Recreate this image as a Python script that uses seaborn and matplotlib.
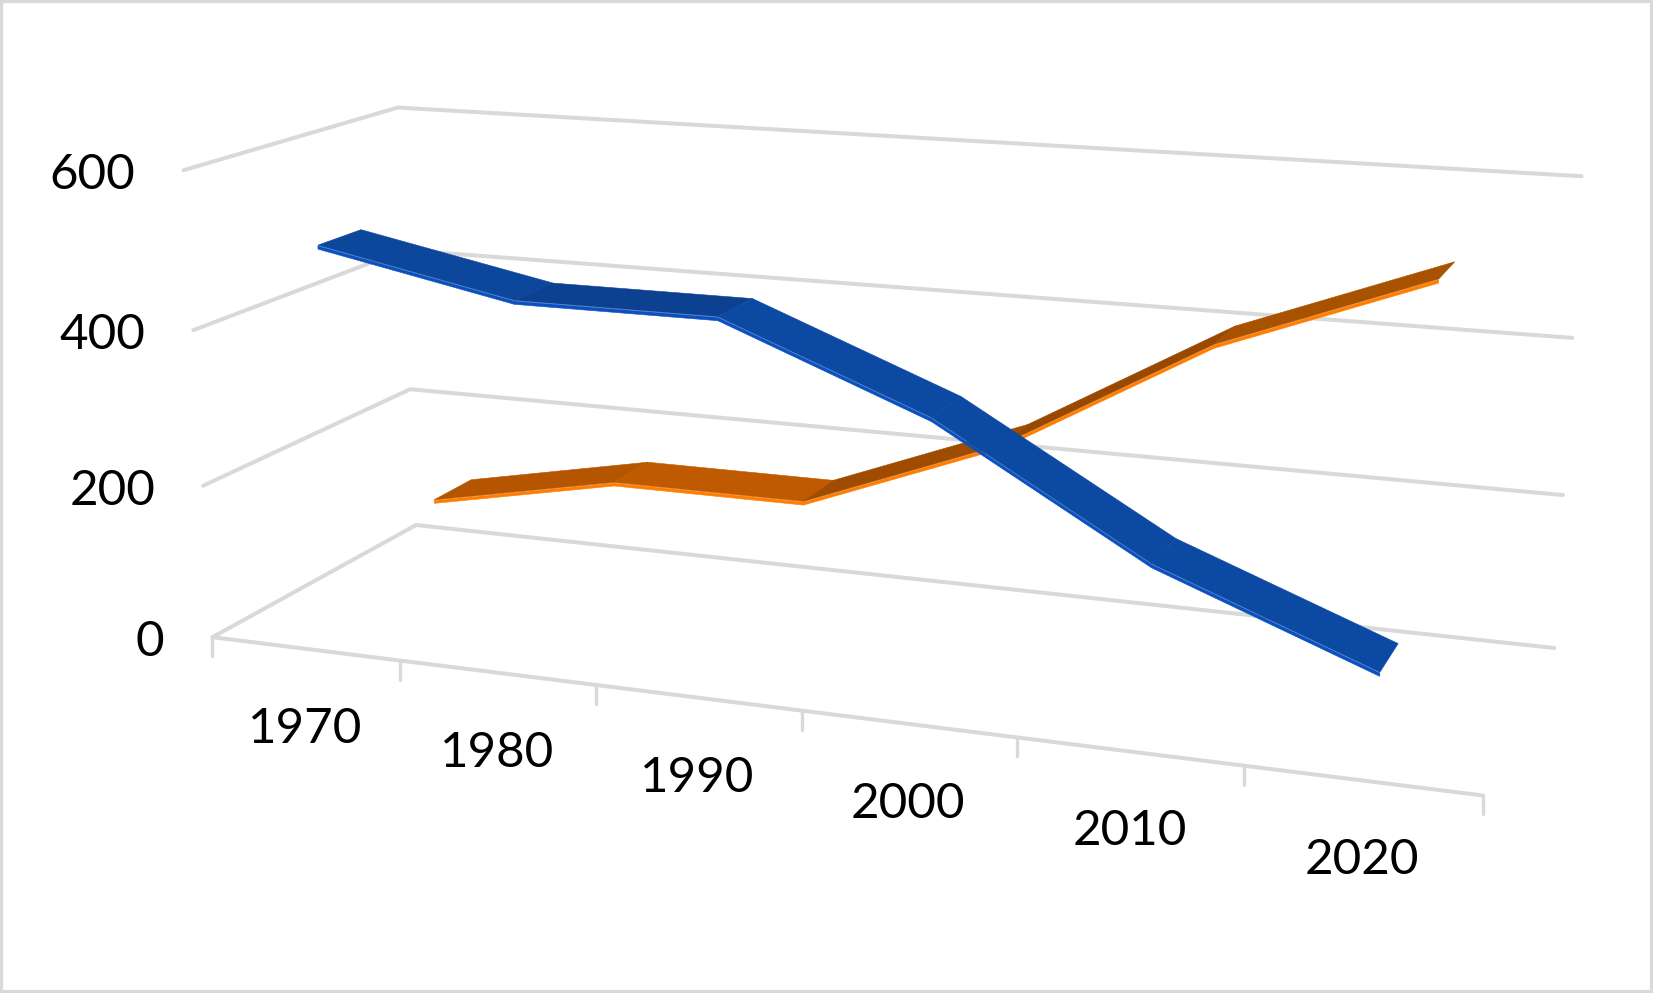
import numpy as np
import pandas as pd
import matplotlib
matplotlib.use("Agg")
import matplotlib.pyplot as plt
import seaborn as sns

years = ["1970", "1980", "1990", "2000", "2010", "2020"]
blue_values = [500, 450, 450, 350, 200, 100]
orange_values = [100, 150, 150, 250, 400, 500]
value_ticks = [0, 200, 400, 600]

# depth of each ribbon inside the box, 0 = front, 1 = back
blue_depth = (0.15, 0.35)
orange_depth = (0.65, 0.85)

blue_tops = ["#0c479c", "#0c4090", "#0c49a2", "#0c49a2", "#0c49a2"]
orange_tops = ["#b55500", "#c05a00", "#a04c00", "#994800", "#a85200"]
grid_color = "#d9d9d9"

# corners of the 3D box in the picture, used to fit the camera
box = [(0, 0, 0), (1, 0, 0), (2, 0, 0), (3, 0, 0), (4, 0, 0), (5, 0, 0), (6, 0, 0),
       (0, 0, 1), (6, 0, 1), (0, 200, 1), (6, 200, 1), (0, 400, 1), (6, 400, 1),
       (0, 600, 1), (6, 600, 1), (0, 200, 0), (0, 400, 0), (0, 600, 0)]
box_px = [(213, 636), (400, 661), (597, 685), (801, 711), (1017, 739), (1244, 766), (1483, 794),
          (416, 525), (1554, 648), (410, 389), (1563, 495), (404, 250), (1573, 338),
          (398, 108), (1581, 176), (202, 486), (193, 330), (184, 170)]

rows, rhs = [], []
for (x, v, d), (u, w) in zip(box, box_px):
    v = v / 100
    rows.append([x, v, d, 1, 0, 0, 0, 0, -u * x, -u * v, -u * d])
    rows.append([0, 0, 0, 0, x, v, d, 1, -w * x, -w * v, -w * d])
    rhs += [u, w]
cam = np.append(np.linalg.lstsq(np.array(rows, float), np.array(rhs, float), rcond=None)[0], 1).reshape(3, 4)


def project(x, v, d):
    h = cam @ np.array([x, v / 100, d, 1])
    return h[0] / h[2], h[1] / h[2]


def draw_path(ax, pts, color, lw):
    xy = pd.DataFrame([project(*p) for p in pts], columns=["px", "py"])
    sns.lineplot(data=xy, x="px", y="py", sort=False, estimator=None, color=color,
                 linewidth=lw, solid_capstyle="round", solid_joinstyle="miter", ax=ax)


def draw_ribbon(ax, values, depth, tops, face):
    front, back = depth
    for i in range(len(values) - 1):
        x0, x1 = i + 0.5, i + 1.5
        v0, v1 = values[i], values[i + 1]
        # thin front face below the front edge
        quad = [(x0, v0, front), (x1, v1, front), (x1, v1 - 4, front), (x0, v0 - 4, front)]
        fx, fy = zip(*[project(*p) for p in quad])
        ax.fill(fx, fy, color=face, lw=0.4, zorder=3)
        # top surface
        quad = [(x0, v0 + 1, front), (x1, v1 + 1, front), (x1, v1 + 1, back), (x0, v0 + 1, back)]
        tx, ty = zip(*[project(*p) for p in quad])
        ax.fill(tx, ty, color=tops[i], lw=0.4, zorder=3)


sns.set_theme(style="white")
plt.rcParams["font.family"] = ["Lato", "DejaVu Sans"]

fig = plt.figure(figsize=(16.53, 9.93), dpi=100)
ax = fig.add_axes([0, 0, 1, 1])

for v in value_ticks:
    draw_path(ax, [(0, v, 0), (0, v, 1), (6, v, 1)], grid_color, 2.9)
draw_path(ax, [(0, 0, 0), (6, 0, 0)], grid_color, 2.9)
for i in range(len(years) + 1):
    x, y = project(i, 0, 0)
    ax.plot([x, x], [y, y + 19], color=grid_color, lw=2.4)

draw_ribbon(ax, orange_values, orange_depth, orange_tops, "#ff7d00")
draw_ribbon(ax, blue_values, blue_depth, blue_tops, "#0a50c0")

for v in value_ticks:
    x, y = project(0, v, 0)
    ax.text(x - 48, y + 5, str(v), ha="right", va="center", fontsize=35.5, color="black")
for i, yr in enumerate(years):
    x, y = project(i + 0.5, 0, 0)
    ax.text(x, y + 80, yr, ha="center", va="center", fontsize=35.5, color="black")

ax.set_xlim(0, 1653)
ax.set_ylim(993, 0)
ax.axis("off")
fig.patches.append(plt.Rectangle((0, 0), 1, 1, transform=fig.transFigure, fill=False,
                                 edgecolor=grid_color, linewidth=4.5))
fig.savefig("out.png", dpi=100, facecolor="white")
